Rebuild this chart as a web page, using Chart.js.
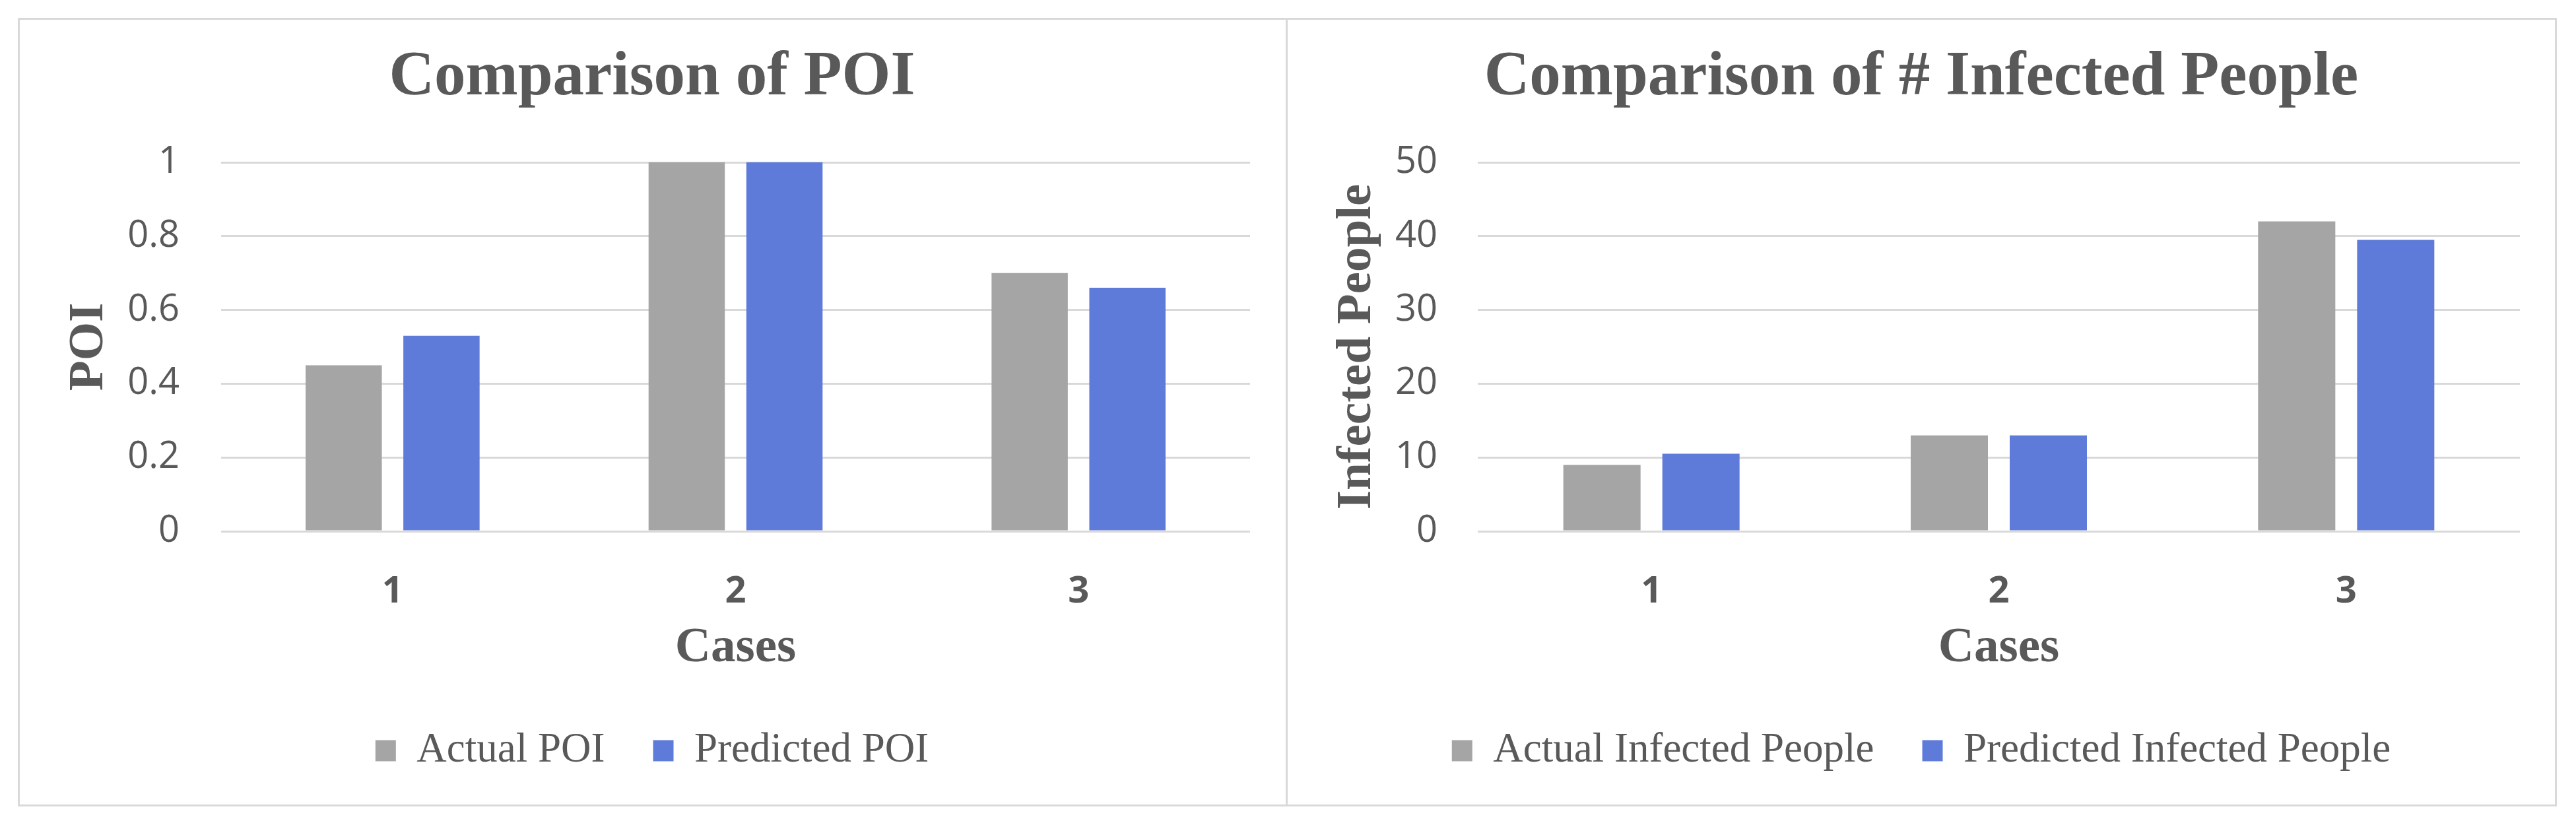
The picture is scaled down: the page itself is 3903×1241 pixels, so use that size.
<!DOCTYPE html>
<html>
<head>
<meta charset="utf-8">
<title>Comparison of POI / Infected People</title>
<script src="https://cdn.jsdelivr.net/npm/chart.js@4.4.0/dist/chart.umd.min.js"></script>
<style>
  html, body { margin: 0; padding: 0; background: #fff; }
  body { width: 3903px; height: 1241px; position: relative; overflow: hidden; }
  .frame { position: absolute; left: 27px; top: 27px; width: 3847px; height: 1195px; border: 3px solid #d9d9d9; box-sizing: border-box; }
  .divider { position: absolute; left: 1948px; top: 27px; width: 3px; height: 1195px; background: #d9d9d9; }
  .panel { position: absolute; top: 27px; height: 1195px; }
  #leftPanel { left: 27px; width: 1922px; }
  #rightPanel { left: 1949px; width: 1925px; }
</style>
</head>
<body>
<div class="frame"></div>
<div class="divider"></div>
<div class="panel" id="leftPanel"><canvas id="poiChart"></canvas></div>
<div class="panel" id="rightPanel"><canvas id="infectedChart"></canvas></div>
<script>
// data
const cases = ['1', '2', '3'];
const actualPoi = [0.45, 1.0, 0.70];
const predictedPoi = [0.53, 1.0, 0.66];
const poiTicks = [0, 0.2, 0.4, 0.6, 0.8, 1];
const actualInfected = [9, 13, 42];
const predictedInfected = [10.5, 13, 39.5];
const infectedTicks = [0, 10, 20, 30, 40, 50];

const GRAY = '#a5a5a5';
const BLUE = '#5f7bd9';
const TEXT = '#595959';
const GRID = '#d9d9d9';
const SERIF = '"Liberation Serif", "Times New Roman", serif';

Chart.defaults.font.family = '"Open Sans", sans-serif';

function buildChart(id, opts) {
  return new Chart(document.getElementById(id), {
    type: 'bar',
    data: {
      labels: cases,
      datasets: [
        { label: opts.actualLabel, data: opts.actual, backgroundColor: GRAY,
          categoryPercentage: 0.57, barPercentage: 0.78 },
        { label: opts.predictedLabel, data: opts.predicted, backgroundColor: BLUE,
          categoryPercentage: 0.57, barPercentage: 0.78 }
      ]
    },
    options: {
      responsive: true,
      maintainAspectRatio: false,
      animation: false,
      layout: { padding: { left: 55, right: opts.padRight, top: 0, bottom: 43 } },
      plugins: {
        title: {
          display: true,
          text: opts.title,
          color: TEXT,
          font: { family: SERIF, size: 95, weight: 'bold' },
          padding: { top: 34, bottom: 71 }
        },
        legend: {
          position: 'bottom',
          labels: {
            color: TEXT,
            font: { family: SERIF, size: 63 },
            boxWidth: 31,
            boxHeight: 32,
            padding: 73
          }
        },
        tooltip: { enabled: false }
      },
      scales: {
        x: {
          grid: { display: false },
          border: { display: false },
          ticks: { color: TEXT, font: { size: 56, weight: 'bold' }, padding: 50 },
          title: {
            display: true,
            text: 'Cases',
            color: TEXT,
            font: { family: SERIF, size: 75, weight: 'bold' },
            padding: { top: 0, bottom: 5 }
          },
          afterFit: s => { s.height = 228; }
        },
        y: {
          min: 0,
          max: opts.ticks[opts.ticks.length - 1],
          afterBuildTicks: s => { s.ticks = opts.ticks.map(v => ({ value: v })); },
          grid: { color: GRID, lineWidth: 3, drawTicks: false },
          border: { display: false },
          ticks: {
            color: TEXT,
            font: { size: 56 },
            padding: opts.tickPad,
            callback: v => String(v)
          },
          title: {
            display: true,
            text: opts.yTitle,
            color: TEXT,
            font: { family: SERIF, size: 75, weight: 'bold' },
            padding: { top: opts.titlePad, bottom: 0 }
          },
          afterFit: s => { s.width = opts.yWidth; }
        }
      }
    }
  });
}

buildChart('poiChart', {
  title: 'Comparison of POI',
  yTitle: 'POI',
  actualLabel: 'Actual POI',
  predictedLabel: 'Predicted POI',
  actual: actualPoi,
  predicted: predictedPoi,
  ticks: poiTicks,
  padRight: 55,
  yWidth: 253,
  tickPad: 63,
  titlePad: 9
});

buildChart('infectedChart', {
  title: 'Comparison of # Infected People',
  yTitle: 'Infected People',
  actualLabel: 'Actual Infected People',
  predictedLabel: 'Predicted Infected People',
  actual: actualInfected,
  predicted: predictedInfected,
  ticks: infectedTicks,
  padRight: 56,
  yWidth: 235,
  tickPad: 61,
  titlePad: 8
});
</script>
</body>
</html>
